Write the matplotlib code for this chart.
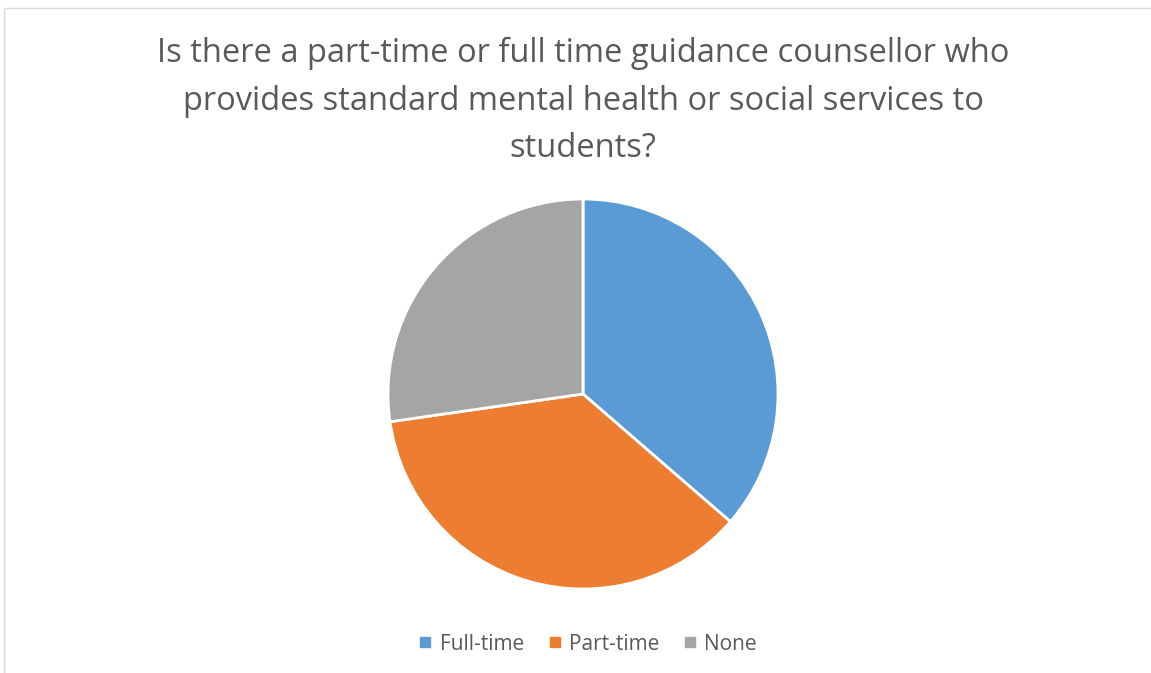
import matplotlib
matplotlib.use("Agg")
import matplotlib.pyplot as plt
from matplotlib.patches import Rectangle
from matplotlib.lines import Line2D

# Survey responses
categories = ["Full-time", "Part-time", "None"]
counts = [4, 4, 3]
colors = ["#5B9BD5", "#ED7D31", "#A5A5A5"]
title = ("Is there a part-time or full time guidance counsellor who\n"
         "provides standard mental health or social services to\n"
         "students?")

W, H = 1151, 673
fig = plt.figure(figsize=(W / 100, H / 100), dpi=100)
fig.patch.set_facecolor("white")

# Chart-area border
fig.add_artist(Rectangle((4 / W, -0.01), 1.05, (H - 8) / H + 0.01,
                         transform=fig.transFigure, fill=False,
                         edgecolor="#D9D9D9", linewidth=1.0))

# Pie axes: center (583, 394) px, radius 195 px
cx, cy, r = 583, 394, 195
half = 200
ax = fig.add_axes([(cx - half) / W, (H - cy - half) / H, 2 * half / W, 2 * half / H])
ax.pie(counts, colors=colors, startangle=90, counterclock=False,
       wedgeprops=dict(edgecolor="white", linewidth=2.0))
lim = half / r
ax.set_xlim(-lim, lim)
ax.set_ylim(-lim, lim)
ax.set_aspect("equal")
ax.axis("off")

fig.text(cx / W, 1 - 101 / H, title, ha="center", va="center",
         fontsize=23.5, color="#595959", family="Open Sans",
         linespacing=1.58)

handles = [Line2D([], [], marker="s", linestyle="none", markersize=7,
                  markerfacecolor=c, markeredgecolor=c) for c in colors]
fig.legend(handles, categories, loc="center", bbox_to_anchor=((cx + 4) / W, 1 - 644 / H),
           ncol=3, frameon=False, labelcolor="#595959",
           prop=dict(family="Open Sans", size=15), handletextpad=0.3,
           columnspacing=1.05, handlelength=0.8)

fig.savefig("out.png", dpi=100, facecolor="white")
